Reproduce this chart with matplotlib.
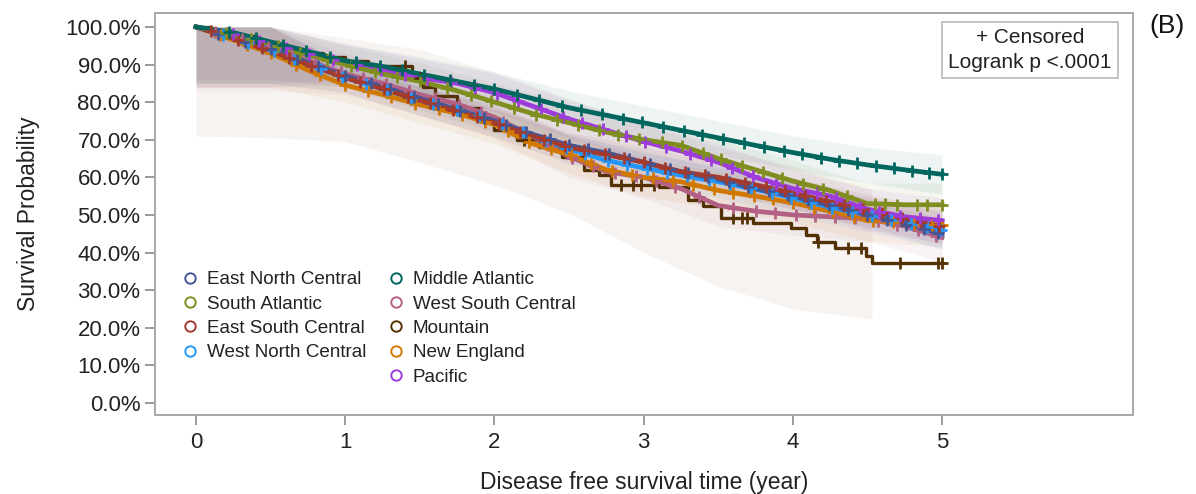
# Kaplan-Meier style chart: disease free survival by US census division
import numpy as np
import matplotlib
matplotlib.use("Agg")
import matplotlib.pyplot as plt
from matplotlib.lines import Line2D

plt.rcParams['font.family'] = ['Liberation Sans', 'DejaVu Sans']

# ---- data ----
groups = ["East North Central", "South Atlantic", "East South Central", "West North Central",
          "Middle Atlantic", "West South Central", "Mountain", "New England", "Pacific"]
colors = ["#445694", "#7F8E1F", "#A23A2E", "#2597FA",
          "#01665E", "#B26084", "#543005", "#D17800", "#9D3CDB"]

# survival (%) on a quarter-year grid, 0 .. 5 years
t_grid = [0, 0.25, 0.5, 0.75, 1, 1.25, 1.5, 1.75, 2, 2.25, 2.5, 2.75, 3,
          3.25, 3.5, 3.75, 4, 4.25, 4.5, 4.75, 5]
surv_enc = [100, 97, 94, 90.5, 87, 84, 81, 78, 75, 71.5, 68.5, 66.5, 64,
            61.5, 59.5, 57, 55, 52.5, 50, 47.5, 45]
surv_sa = [100, 98, 95.5, 92.5, 90, 87.5, 85.5, 83, 80, 77, 74.5, 72, 70,
           68.5, 65, 62, 59, 56.5, 53, 52.7, 52.7]
surv_esc = [100, 97, 93.5, 90, 86.5, 83.5, 80.5, 77.5, 74.5, 71, 68, 66, 64,
            61.5, 60, 58, 55.8, 53.5, 51.3, 49, 46.8]
surv_wnc = [100, 97, 94, 90, 86.5, 83.5, 80.5, 78, 75, 71, 67.5, 64.5, 62.5,
            60.5, 58.8, 56.8, 54.5, 52, 50, 48, 46]
surv_ma = [100, 98.5, 96, 93.5, 91, 89.5, 87.5, 85.5, 83.5, 81, 78.5, 76.5, 74.5,
           72.5, 70.5, 68.5, 66.6, 64.8, 63.3, 62, 60.8]
surv_wsc = [100, 97.5, 94.5, 91, 87.5, 85, 82, 79.5, 76, 71, 65.5, 61.5, 60,
            57, 52.5, 51, 50, 49.5, 49, 47, 44]
surv_ne = [100, 96.5, 93, 88.5, 84.5, 82, 79.3, 77, 74, 69, 66, 62, 60,
           58.8, 56.5, 55, 53.2, 51, 48.5, 47.8, 47.3]
surv_pac = [100, 98, 95.5, 93, 90.5, 88.5, 86.5, 85, 82.5, 79, 75.5, 72.5, 69.5,
            67, 64, 60, 57, 55, 51.5, 49.5, 48.5]

# Mountain: few patients, visible steps
t_mtn = [0, 0.1, 0.25, 0.4, 0.55, 0.7, 0.85, 1.0, 1.15, 1.45, 1.52, 1.6, 1.75, 1.9,
         2.0, 2.15, 2.3, 2.45, 2.6, 2.7, 2.78, 3.1, 3.3, 3.4, 3.52, 3.73, 3.99,
         4.09, 4.16, 4.28, 4.49, 4.53, 5.0]
surv_mtn = [100, 99, 97.5, 96, 94.5, 93, 92, 91, 89.5, 86.5, 84, 81.5, 78.5, 75.5,
            72.5, 70, 68, 65.5, 62, 60.5, 58, 57.4, 54, 52.5, 49.2, 47.9, 46.4,
            44.7, 42.8, 41.2, 39.2, 37.2, 37.2]

# confidence bands (%), half-year grid
t_band = [0, 0.5, 1, 1.5, 2, 2.5, 3, 3.5, 4, 4.5, 5]
lo_enc = [86, 86, 84, 78, 72, 65.5, 61, 56.5, 51.5, 46.5, 41]
hi_enc = [100, 100, 90, 84, 78, 71.5, 67, 62.5, 58.5, 53.5, 49]
lo_sa = [84, 84, 84.5, 80.5, 75, 69.5, 65, 60, 54, 48, 47]
hi_sa = [100, 100, 95, 90.5, 85, 79.5, 75, 70, 64.5, 58.5, 58.5]
lo_esc = [85, 85, 82.5, 76.5, 70.5, 64, 60, 56, 51.5, 47, 42]
hi_esc = [100, 100, 90.5, 84.5, 78.5, 72, 68, 64, 60, 55.5, 51.5]
lo_wnc = [85, 85, 82.5, 76.5, 71, 63.5, 58.5, 54.5, 50, 45.5, 41]
hi_wnc = [100, 100, 90.5, 84.5, 79, 71.5, 66.5, 63, 59, 54.5, 51]
lo_ma = [85, 85, 86, 82.5, 79, 74, 70, 66, 62, 58.5, 55.5]
hi_ma = [100, 100, 95.5, 92, 88, 83, 79, 75, 71, 68, 66]
lo_wsc = [83, 83, 82, 76.5, 70.5, 60, 54.5, 47, 44.5, 43, 37.5]
hi_wsc = [100, 100, 93, 87.5, 81.5, 71, 65.5, 58, 55.5, 55, 50.5]
lo_ne = [84, 84, 80, 74.5, 69, 61, 55, 51.5, 48, 43, 41.5]
hi_ne = [100, 100, 89, 84, 79, 71, 65, 61.5, 58.5, 54, 53]
lo_pac = [84, 84, 85.5, 81.5, 77.5, 70.5, 64.5, 59, 52, 46, 42.5]
hi_pac = [100, 100, 95.5, 91.5, 87.5, 80.5, 74.5, 69, 62, 57, 54.5]
t_band_mtn = [0, 0.5, 1, 1.5, 2, 2.5, 3, 3.5, 4, 4.5, 4.53]
lo_mtn = [71, 70.5, 69.5, 64, 58, 50.5, 40, 31, 25, 22.5, 22.5]
hi_mtn = [100, 100, 97, 94, 88, 81, 74, 68, 63, 57, 57]

# censoring times (years)
cens_enc = [0.15, 0.33, 0.5, 0.68, 0.82, 1.0, 1.17, 1.3, 1.46, 1.62, 1.77, 1.93, 2.08, 2.21,
            2.37, 2.5, 2.63, 2.77, 2.9, 3.04, 3.18, 3.3, 3.43, 3.57, 3.7, 3.84, 3.97, 4.1,
            4.24, 4.37, 4.5, 4.63, 4.76, 4.88, 4.97]
cens_sa = [0.2, 0.37, 0.55, 0.7, 0.88, 1.04, 1.2, 1.35, 1.5, 1.68, 1.84, 1.98, 2.13, 2.28,
           2.42, 2.56, 2.7, 2.83, 2.97, 3.12, 3.26, 3.4, 3.52, 3.66, 3.8, 3.93, 4.07, 4.2,
           4.36, 4.55, 4.62, 4.7, 4.83, 4.9, 5.0]
cens_esc = [0.1, 0.28, 0.44, 0.62, 0.77, 0.95, 1.1, 1.26, 1.42, 1.57, 1.72, 1.88, 2.03, 2.17,
            2.33, 2.47, 2.6, 2.74, 2.87, 3.0, 3.14, 3.28, 3.41, 3.55, 3.68, 3.82, 3.95, 4.08,
            4.22, 4.34, 4.47, 4.6, 4.73, 4.86, 4.98]
cens_wnc = [0.18, 0.35, 0.52, 0.66, 0.84, 0.98, 1.14, 1.28, 1.44, 1.59, 1.75, 1.9, 2.05, 2.19,
            2.34, 2.48, 2.61, 2.76, 2.89, 3.02, 3.16, 3.29, 3.44, 3.58, 3.72, 3.86, 3.99, 4.12,
            4.26, 4.4, 4.53, 4.66, 4.79, 4.9, 4.99]
cens_ma = [0.22, 0.4, 0.58, 0.74, 0.9, 1.07, 1.23, 1.38, 1.53, 1.7, 1.86, 2.0, 2.15, 2.3,
           2.45, 2.58, 2.72, 2.86, 2.99, 3.13, 3.27, 3.39, 3.53, 3.67, 3.81, 3.94, 4.06, 4.19,
           4.31, 4.43, 4.56, 4.68, 4.8, 4.91, 5.0]
cens_wsc = [0.13, 0.31, 0.48, 0.64, 0.8, 0.97, 1.12, 1.27, 1.43, 1.6, 1.76, 1.91, 2.06, 2.2,
            2.36, 2.52, 2.66, 2.81, 2.95, 3.08, 3.21, 3.37, 3.6, 3.75, 3.88, 4.02, 4.15,
            4.28, 4.42, 4.57, 4.7, 4.84, 4.96]
cens_mtn = [1.4, 1.5, 2.2, 2.85, 2.93, 2.98, 3.07, 3.6, 3.66, 3.69, 4.17, 4.37, 4.46, 4.72,
            4.97, 5.0]
cens_ne = [0.16, 0.34, 0.5, 0.67, 0.83, 1.0, 1.15, 1.31, 1.47, 1.63, 1.78, 1.94, 2.09, 2.23,
           2.38, 2.51, 2.65, 2.79, 2.92, 3.06, 3.2, 3.33, 3.47, 3.6, 3.74, 3.87, 4.0, 4.14,
           4.27, 4.41, 4.54, 4.67, 4.81, 4.93, 5.0]
cens_pac = [0.25, 0.42, 0.6, 0.76, 0.92, 1.08, 1.24, 1.4, 1.55, 1.71, 1.87, 2.02, 2.16, 2.31,
            2.46, 2.59, 2.73, 2.88, 3.01, 3.15, 3.31, 3.45, 3.59, 3.73, 3.89, 4.03, 4.16,
            4.29, 4.45, 4.58, 4.72, 4.85, 4.97]

surv = [surv_enc, surv_sa, surv_esc, surv_wnc, surv_ma, surv_wsc, surv_mtn, surv_ne, surv_pac]
lows = [lo_enc, lo_sa, lo_esc, lo_wnc, lo_ma, lo_wsc, lo_mtn, lo_ne, lo_pac]
highs = [hi_enc, hi_sa, hi_esc, hi_wnc, hi_ma, hi_wsc, hi_mtn, hi_ne, hi_pac]
cens = [cens_enc, cens_sa, cens_esc, cens_wnc, cens_ma, cens_wsc, cens_mtn, cens_ne, cens_pac]

# ---- figure ----
fig = plt.figure(figsize=(11.96, 4.94), dpi=100)
ax = fig.add_axes([0.1296, 0.16, 0.8177, 0.8137])

# bands first
for i, g in enumerate(groups):
    if g == "Mountain":
        ax.fill_between(t_band_mtn, lows[i], highs[i], color='#8a5a3a', alpha=0.07, lw=0)
    else:
        ax.fill_between(t_band, lows[i], highs[i], color=colors[i], alpha=0.07, lw=0)

# curves + censor marks
draw_order = [6, 5, 7, 3, 0, 2, 8, 1, 4]
for i in draw_order:
    if groups[i] == "Mountain":
        tt = t_mtn
        ax.plot(tt, surv[i], color=colors[i], lw=2.4, drawstyle='steps-post', zorder=3)
        # value of the step curve at each censor time
        idx = np.searchsorted(tt, cens[i], side='right') - 1
        cy = np.array(surv[i])[idx]
    else:
        tt = t_grid
        ax.plot(tt, surv[i], color=colors[i], lw=3.4, zorder=3)
        cy = np.interp(cens[i], tt, surv[i])
    ax.plot(cens[i], cy, ls='none', marker='+', ms=9, mew=2, color=colors[i], zorder=4)

ax.set_xlim(-0.275, 6.28)
ax.set_ylim(-3.2, 103.7)
ax.set_xticks(range(0, 6))
ax.set_yticks(range(0, 101, 10))
ax.set_yticklabels([f"{v:.1f}%" for v in range(0, 101, 10)])

for s in ax.spines.values():
    s.set_color('#a8a8a8')
    s.set_linewidth(1.4)
ax.tick_params(axis='both', colors='#8a8a8a', labelcolor='#222222', labelsize=16,
               length=7, width=1.2)
ax.tick_params(axis='x', pad=5)

ax.set_xlabel("Disease free survival time (year)", fontsize=16.5, color='#222222', labelpad=13)
ax.set_ylabel("Survival Probability", fontsize=16.5, color='#222222', labelpad=18)

# legend, 4 + 5 layout
handles = [Line2D([], [], ls='none', marker='o', ms=7.5, mfc='none', mew=1.4, color=c)
           for c in colors]
labels = list(groups)
blank = Line2D([], [], ls='none')
handles = handles[:4] + [blank] + handles[4:]
labels = labels[:4] + [""] + labels[4:]
ax.legend(handles, labels, ncol=2, loc='upper left', bbox_to_anchor=(0.027, 0.358),
          frameon=False, fontsize=13.6, handlelength=0.9, handletextpad=0.45,
          columnspacing=1.1, labelspacing=0.38, borderaxespad=0, borderpad=0,
          labelcolor='#222222')

ax.text(0.8947, 0.908, "+ Censored\nLogrank p <.0001", transform=ax.transAxes,
        ha='center', va='center', fontsize=15, color='#222222', linespacing=1.4,
        bbox=dict(boxstyle='square,pad=0.3', fc='white', ec='#b8b8b8', lw=1.2))

fig.text(0.976, 0.948, "(B)", ha='center', va='center', fontsize=19, color='#111111')

fig.savefig("out.png", dpi=100)
